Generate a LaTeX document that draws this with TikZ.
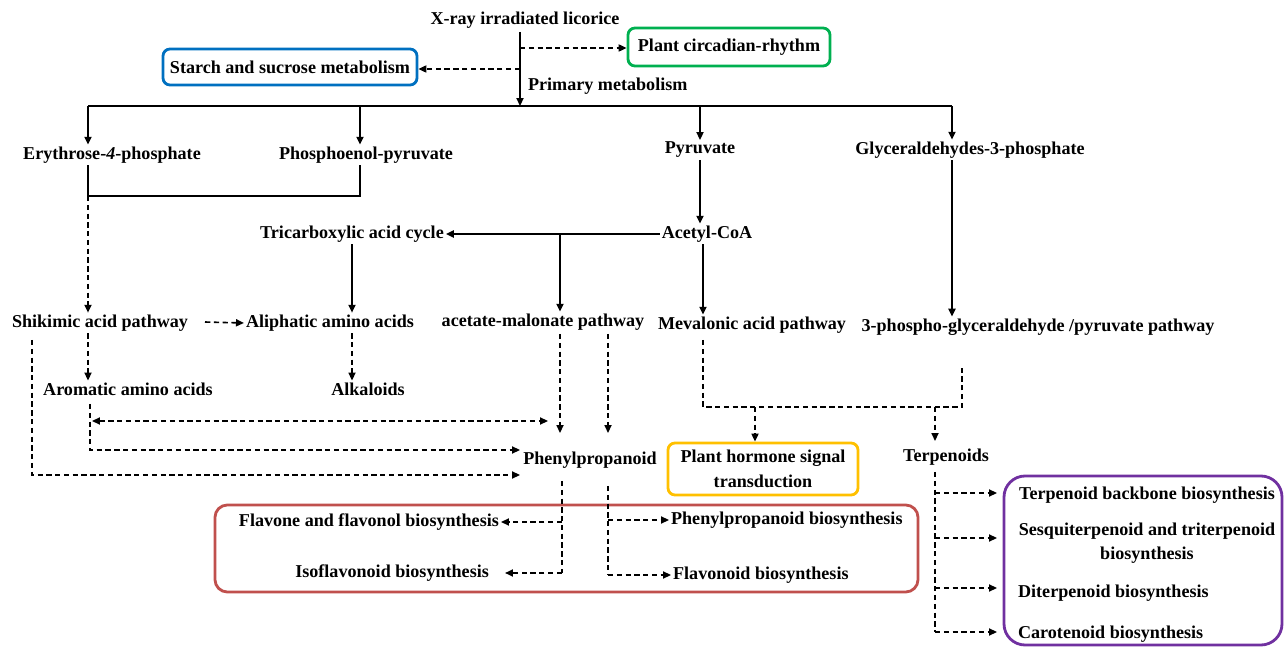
\documentclass[tikz,border=0pt]{standalone}
\usepackage{fontspec}
\setmainfont{Liberation Serif}
\usetikzlibrary{positioning, arrows.meta}

\definecolor{boxblue}{RGB}{0,112,192}
\definecolor{boxgreen}{RGB}{0,176,80}
\definecolor{boxorange}{RGB}{255,192,0}
\definecolor{boxred}{RGB}{192,80,77}
\definecolor{boxpurple}{RGB}{112,48,160}

\tikzset{
  txt/.style={font=\bfseries\fontsize{10.3}{14}\selectfont, inner sep=1pt},
  pathbox/.style={txt, draw=#1, line width=1.6pt, rounded corners=4pt, inner xsep=3pt, inner ysep=3pt},
  sline/.style={line width=1pt},
  dline/.style={line width=0.9pt, dash pattern=on 3pt off 2pt},
  sarr/.style={sline, -{Triangle[length=4.5pt,width=4pt]}},
  darr/.style={dline, -{Triangle[length=4.5pt,width=4pt]}},
  ddarr/.style={dline, {Triangle[length=4.5pt,width=4pt]}-{Triangle[length=4.5pt,width=4pt]}}
}

\begin{document}
\begin{tikzpicture}[x=0.02cm, y=-0.02cm]
\useasboundingbox (0,0) rectangle (1285,648);

% Origen y metabolismo primario
\node[txt] (xray) at (525,20) {X-ray irradiated licorice};
\node[pathbox=boxgreen, minimum width=202*0.02cm, minimum height=38*0.02cm] (circ) at (729,47) {Plant circadian-rhythm};
\node[pathbox=boxblue, minimum width=254*0.02cm, minimum height=36*0.02cm] (starch) at (290,67) {Starch and sucrose metabolism};
\node[txt, anchor=west] (prim) at (526,86) {Primary metabolism};

\coordinate (top) at (520,32);
\coordinate (hub) at (520,106);
\coordinate (c1) at (520,48);
\coordinate (c2) at (520,69);
\draw[sarr] (top) -- (hub);
\draw[darr] (c1) -- (c1 -| circ.west);
\draw[darr] (c2) -- (c2 -| starch.east);

% Precursores
\node[txt] (ery) at (112,155) {Erythrose-\textit{4}-phosphate};
\node[txt] (pep) at (366,155) {Phosphoenol-pyruvate};
\node[txt] (pyr) at (700,150) {Pyruvate};
\node[txt] (gly) at (970,150) {Glyceraldehydes-3-phosphate};

\coordinate (b1) at (88,106);
\coordinate (b2) at (360,106);
\coordinate (b3) at (700,106);
\coordinate (b4) at (952,106);
\draw[sline] (b1) -- (b4);
\draw[sarr] (b1) -- (b1 |- ery.north);
\draw[sarr] (b2) -- (b2 |- pep.north);
\draw[sarr] (b3) -- (b3 |- pyr.north);
\draw[sarr] (b4) -- (b4 |- gly.north);

% Nivel intermedio
\node[txt] (tca) at (352,234) {Tricarboxylic acid cycle};
\node[txt] (acoa) at (707,234) {Acetyl-CoA};
\node[txt] (shik) at (100,323) {Shikimic acid pathway};
\node[txt] (alip) at (330,323) {Aliphatic amino acids};
\node[txt] (acmal) at (543,322) {acetate-malonate pathway};
\node[txt] (meva) at (752,325) {Mevalonic acid pathway};
\node[txt] (gap) at (1038,327) {3-phospho-glyceraldehyde /pyruvate pathway};
\node[txt] (arom) at (128,389) {Aromatic amino acids};
\node[txt] (alka) at (368,389) {Alkaloids};

\coordinate (j1) at (88,196);
\coordinate (j2) at (360,196);
\draw[sline] (j1 |- ery.south) -- (j1) -- (j2) -- (j2 |- pep.south);
\draw[darr] (j1) -- (j1 |- shik.north);
\draw[sarr] (pyr.south) -- (pyr.south |- acoa.north);
\draw[sarr] (acoa.west) -- (tca.east);
\coordinate (j3) at (560,234);
\draw[sarr] (j3) -- (j3 |- acmal.north);
\draw[sarr] (acoa.south -| 703,0) -- (meva.north -| 703,0);
\draw[sarr] (gly.south -| b4) -- (gap.north -| b4);
\draw[sarr] (tca.south) -- (tca.south |- alip.north);
\draw[darr] (205,322) -- (alip.west);
\draw[darr] (shik.south -| j1) -- (arom.north -| j1);
\draw[darr] (alip.south -| tca.south) -- (alka.north -| tca.south);

% Hacia fenilpropanoides
\node[txt] (phen) at (590,460) {Phenylpropanoid};
\coordinate (a1) at (90,404);
\coordinate (a2) at (32,340);
\coordinate (p1) at (520,450);
\coordinate (p2) at (520,475);
\draw[darr] (a1) |- (p1);
\draw[darr] (a2) |- (p2);
\draw[ddarr] (92,421) -- (548,421);
\coordinate (m1) at (560,334);
\coordinate (m2) at (608,334);
\draw[darr] (m1) -- (560,433);
\draw[darr] (m2) -- (608,433);

% Hormonas y terpenoides
\node[pathbox=boxorange, align=center, minimum width=190*0.02cm, minimum height=52*0.02cm] (horm) at (763,469) {Plant hormone signal\\transduction};
\node[txt] (terp) at (946,457) {Terpenoids};
\coordinate (v1) at (703,340);
\coordinate (v2) at (962,366);
\draw[dline] (v1) |- (v2 |- 0,407) -- (v2);
\draw[darr] (755,407) -- (horm.north -| 755,0);
\draw[darr] (935,407) -- (935,441);

% Biosíntesis de fenilpropanoides
\draw[boxred, line width=1.6pt, rounded corners=7pt] (215,505) rectangle (918,592);
\node[txt, anchor=east] (flav) at (501,522) {Flavone and flavonol biosynthesis};
\node[txt, anchor=east] (iso) at (491,573) {Isoflavonoid biosynthesis};
\node[txt, anchor=west] (ppb) at (669,520) {Phenylpropanoid biosynthesis};
\node[txt, anchor=west] (flvd) at (671,575) {Flavonoid biosynthesis};
\coordinate (f1) at (562,481);
\coordinate (f2) at (608,486);
\draw[dline] (f1) -- (f1 |- iso);
\draw[dline] (f2) -- (f2 |- flvd);
\draw[darr] (f1 |- flav) -- (flav.east);
\draw[darr] (f1 |- iso) -- ([xshift=8pt]iso.east);
\draw[darr] (f2 |- ppb) -- (ppb.west);
\draw[darr] (f2 |- flvd) -- (flvd.west);

% Biosíntesis de terpenoides
\draw[boxpurple, line width=1.6pt, rounded corners=12pt] (1004,476) rectangle (1282,645);
\node[txt] (tbb) at (1147,495) {Terpenoid backbone biosynthesis};
\node[txt, align=center] (sesq) at (1147,543) {Sesquiterpenoid and triterpenoid\\biosynthesis};
\node[txt, anchor=west] (dit) at (1016,593) {Diterpenoid biosynthesis};
\node[txt, anchor=west] (car) at (1016,634) {Carotenoid biosynthesis};
\coordinate (t1) at (935,472);
\coordinate (t2) at (935,632);
\draw[dline] (t1) -- (t2);
\foreach \y in {493,538,588,632}
  \draw[darr] (935,\y) -- (997,\y);

\end{tikzpicture}
\end{document}
